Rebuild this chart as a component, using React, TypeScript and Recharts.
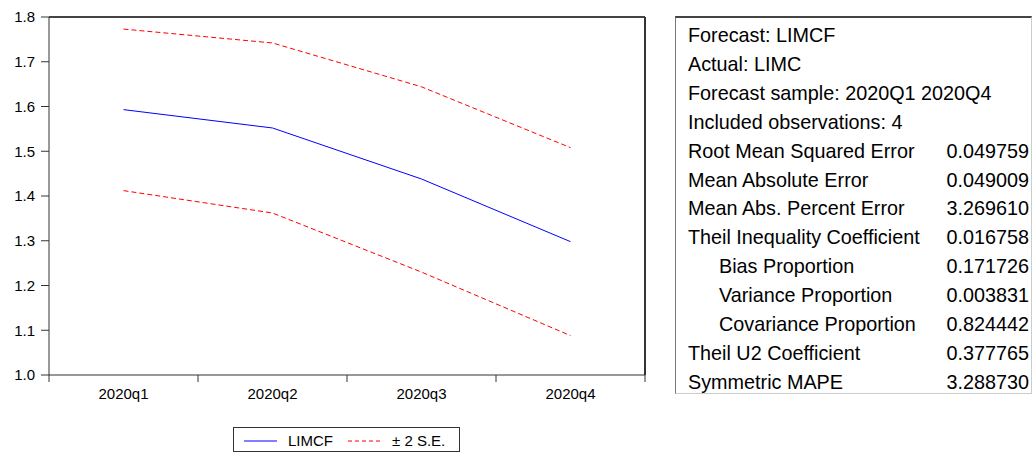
import React from 'react';
import { LineChart, Line, XAxis, YAxis } from 'recharts';

const categories = ['2020q1', '2020q2', '2020q3', '2020q4'];
const forecastValues = [1.593, 1.552, 1.438, 1.298];
const upperValues = [1.773, 1.742, 1.644, 1.508];
const lowerValues = [1.412, 1.362, 1.230, 1.088];
const yTicks = [1.0, 1.1, 1.2, 1.3, 1.4, 1.5, 1.6, 1.7, 1.8];

const statLabels = [
  'Forecast: LIMCF',
  'Actual: LIMC',
  'Forecast sample: 2020Q1 2020Q4',
  'Included observations: 4',
  'Root Mean Squared Error',
  'Mean Absolute Error',
  'Mean Abs. Percent Error',
  'Theil Inequality Coefficient',
  'Bias Proportion',
  'Variance Proportion',
  'Covariance Proportion',
  'Theil U2 Coefficient',
  'Symmetric MAPE',
];
const statValues = ['', '', '', '', '0.049759', '0.049009', '3.269610', '0.016758', '0.171726', '0.003831', '0.824442', '0.377765', '3.288730'];
const statIndent = [false, false, false, false, false, false, false, false, true, true, true, false, false];

const data = categories.map((c, i) => ({
  cat: c,
  limcf: forecastValues[i],
  upper: upperValues[i],
  lower: lowerValues[i],
}));

const FONT = 'Arial, "Liberation Sans", Helvetica, sans-serif';
const CHART_W = 660;
const CHART_H = 455;
const M = { top: 16, right: 14, left: 0, bottom: 0 };
const Y_W = 49;
const X_H = CHART_H - 375;
const PLOT_W = CHART_W - M.left - M.right - Y_W - 1;
const BAND = PLOT_W / categories.length;

const XTick = (props: any) => {
  const { x, y, payload, index } = props;
  const left = x - BAND / 2;
  return (
    <g>
      <line x1={left} y1={y} x2={left} y2={y + 7} stroke="#333" strokeWidth={1} />
      {index === categories.length - 1 && (
        <line x1={x + BAND / 2} y1={y} x2={x + BAND / 2} y2={y + 7} stroke="#333" strokeWidth={1} />
      )}
      <text x={x} y={y + 23.5} textAnchor="middle" fontSize={15} fontFamily={FONT} fill="#000">
        {payload.value}
      </text>
    </g>
  );
};

export default function App() {
  return (
    <div style={{ position: 'absolute', left: 0, top: 0, width: 1035, height: 455, background: '#fff', fontFamily: FONT }}>
      <div style={{ position: 'absolute', left: 0, top: 0 }}>
        <LineChart width={CHART_W} height={CHART_H} data={data} margin={M}>
          <XAxis
            dataKey="cat"
            xAxisId="b"
            scale="band"
            height={X_H}
            axisLine={{ stroke: '#333', strokeWidth: 1 }}
            tickLine={false}
            tickSize={0}
            tickMargin={0}
            tick={<XTick />}
            interval={0}
          />
          <XAxis dataKey="cat" xAxisId="t" orientation="top" scale="band" height={1} axisLine={{ stroke: '#444', strokeWidth: 2 }} tick={false} tickLine={false} />
          <YAxis
            yAxisId="l"
            width={Y_W}
            domain={[1.0, 1.8]}
            ticks={yTicks}
            tickFormatter={(v: number) => v.toFixed(1)}
            tickSize={8}
            tickMargin={6}
            axisLine={{ stroke: '#333', strokeWidth: 1 }}
            tickLine={{ stroke: '#333' }}
            tick={{ fontSize: 15, fontFamily: FONT, fill: '#000' }}
            interval={0}
          />
          <YAxis yAxisId="r" orientation="right" width={1} domain={[1.0, 1.8]} ticks={yTicks} axisLine={{ stroke: '#333', strokeWidth: 2 }} tick={false} tickLine={false} />
          <Line xAxisId="t" yAxisId="r" type="linear" dataKey="upper" name="± 2 S.E." stroke="#ff0000" strokeWidth={1} strokeDasharray="5 3" dot={false} isAnimationActive={false} />
          <Line xAxisId="b" yAxisId="l" type="linear" dataKey="lower" name="± 2 S.E." stroke="#ff0000" strokeWidth={1} strokeDasharray="5 3" dot={false} isAnimationActive={false} />
          <Line xAxisId="b" yAxisId="l" type="linear" dataKey="limcf" name="LIMCF" stroke="#0000ff" strokeWidth={1} dot={false} isAnimationActive={false} />
        </LineChart>
      </div>
      {/* legend */}
      <div style={{ position: 'absolute', left: 233, top: 427, width: 227, height: 25, boxSizing: 'border-box', border: '1px solid #333', background: '#fff' }}>
        <svg width={227} height={25} style={{ position: 'absolute', left: -1, top: -1 }}>
          <line x1={11} y1={14} x2={44} y2={14} stroke="#0000ff" strokeWidth={1} />
          <text x={55} y={19} fontSize={15} fontFamily={FONT} fill="#000">LIMCF</text>
          <line x1={115} y1={14} x2={149} y2={14} stroke="#ff0000" strokeWidth={1} strokeDasharray="4 3" />
          <text x={159} y={19} fontSize={15} fontFamily={FONT} fill="#000">± 2 S.E.</text>
        </svg>
      </div>
      {/* stats box */}
      <div
        style={{
          position: 'absolute',
          left: 675,
          top: 16,
          width: 357,
          height: 378,
          boxSizing: 'border-box',
          borderTop: '2px solid #444',
          borderLeft: '1px solid #777',
          borderRight: '1px solid #ccc',
          borderBottom: '1px solid #ccc',
        }}
      >
        {statLabels.map((lab, i) => (
          <div key={i} style={{ position: 'absolute', left: 0, top: 6 + i * 28.9, width: 355, height: 22, lineHeight: '22px', fontSize: 19.8, color: '#000', whiteSpace: 'nowrap' }}>
            <span style={{ position: 'absolute', left: statIndent[i] ? 43 : 12 }}>{lab}</span>
            <span style={{ position: 'absolute', right: 2 }}>{statValues[i]}</span>
          </div>
        ))}
      </div>
    </div>
  );
}
